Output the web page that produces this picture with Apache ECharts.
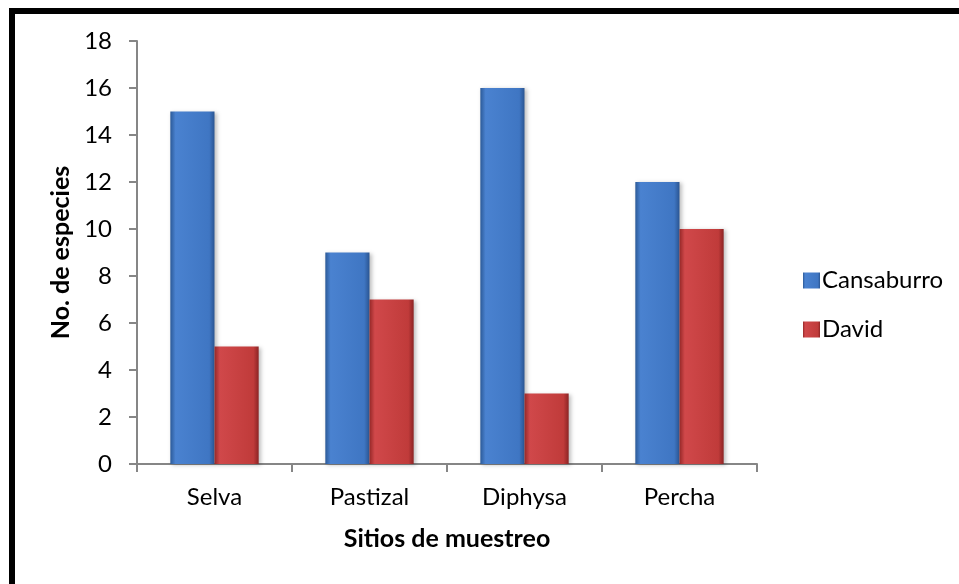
<!DOCTYPE html>
<html><head><meta charset="utf-8">
<script src="https://cdn.jsdelivr.net/npm/echarts@6/dist/echarts.min.js"></script>
<style>
html,body{margin:0;padding:0;background:#fff;}
#frame{position:absolute;left:9px;top:8px;width:960px;height:600px;border-left:6px solid #000;border-top:6px solid #000;}
#c{position:absolute;left:0;top:0;width:959px;height:584px;}
</style></head>
<body>
<div id="frame"></div>
<div id="c"></div>
<script>
const categories = ['Selva','Pastizal','Diphysa','Percha'];
const cansaburro = [15, 9, 16, 12];
const david = [5, 7, 3, 10];
const yTicks = {min:0, max:18, interval:2};

const font = 'Lato, "Open Sans", sans-serif';
function grad(c0,c1,c2,c3){
  return new echarts.graphic.LinearGradient(0,0,1,0,[
    {offset:0,color:c0},{offset:0.12,color:c1},{offset:0.88,color:c2},{offset:1,color:c3}]);
}
const chart = echarts.init(document.getElementById('c'), null, {renderer:'canvas'});
chart.setOption({
  animation:false,
  backgroundColor:'transparent',
  grid:{left:137, top:41, right:202, bottom:120, containLabel:false},
  legend:{
    orient:'vertical', left:798, top:263, itemGap:24, itemWidth:17, itemHeight:16,
    icon:'rect',
    textStyle:{fontFamily:font, fontSize:24, lineHeight:25, color:'#000', padding:[0,0,0,-3]},
    data:['Cansaburro','David']
  },
  xAxis:{
    type:'category', data:categories,
    axisLine:{lineStyle:{color:'#868686', width:2}},
    axisTick:{show:true, length:8, lineStyle:{color:'#868686', width:2}},
    axisLabel:{fontFamily:font, fontSize:24, color:'#000', margin:21},
    name:'Sitios de muestreo', nameLocation:'middle', nameGap:62,
    nameTextStyle:{fontFamily:font, fontSize:25, fontWeight:'bold', color:'#000'}
  },
  yAxis:{
    type:'value', min:yTicks.min, max:yTicks.max, interval:yTicks.interval,
    splitLine:{show:false},
    axisLine:{show:true, lineStyle:{color:'#868686', width:2}},
    axisTick:{show:true, length:8, lineStyle:{color:'#868686', width:2}},
    axisLabel:{fontFamily:font, fontSize:24, color:'#000', margin:25},
    name:'No. de especies', nameLocation:'middle', nameGap:58,
    nameTextStyle:{fontFamily:font, fontSize:25, fontWeight:'bold', color:'#000'}
  },
  series:[
    {name:'Cansaburro', type:'bar', data:cansaburro, barGap:'0%', barCategoryGap:'43%',
     itemStyle:{color:grad('#2c5a98','#4a82d0','#3f76c3','#2a5592'), shadowColor:'rgba(0,0,0,0.25)', shadowBlur:4, shadowOffsetX:2, shadowOffsetY:1}},
    {name:'David', type:'bar', data:david,
     itemStyle:{color:grad('#962828','#d0484a','#c03b3a','#8c2424'), shadowColor:'rgba(0,0,0,0.25)', shadowBlur:4, shadowOffsetX:2, shadowOffsetY:1}}
  ]
});
</script>
</body></html>
